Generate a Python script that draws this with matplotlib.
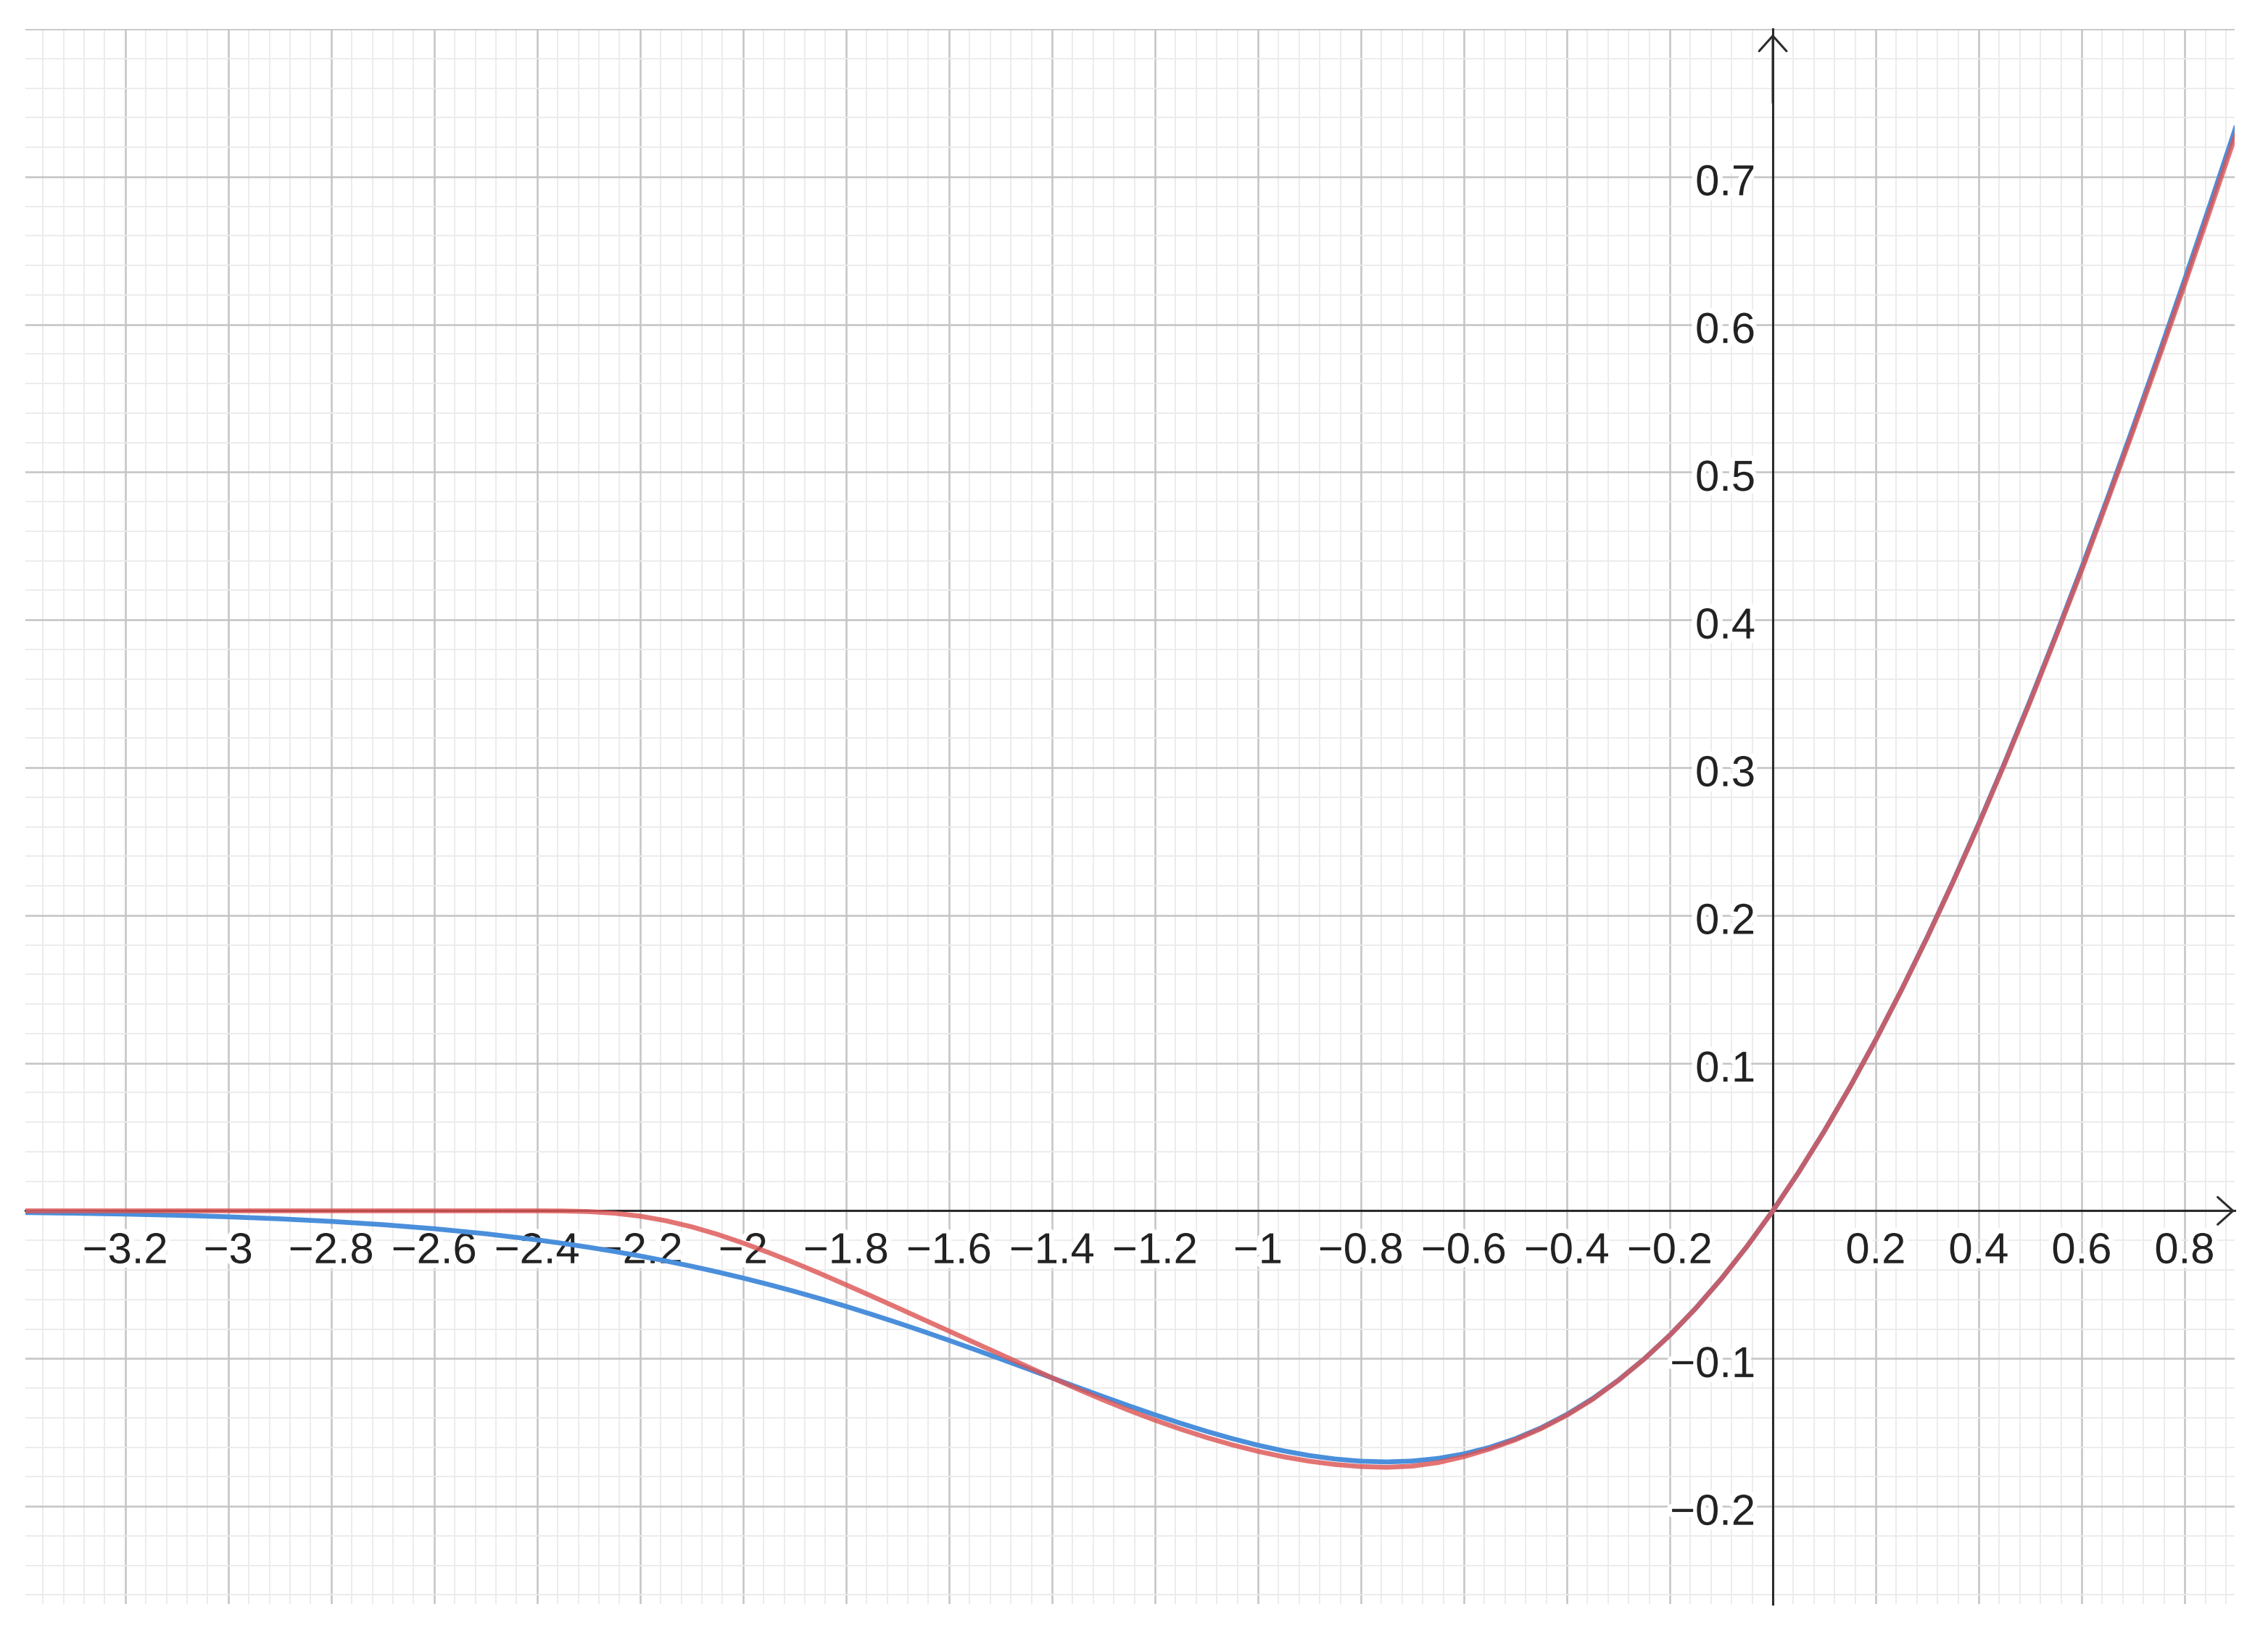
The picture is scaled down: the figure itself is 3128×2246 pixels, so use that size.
import numpy as np
import matplotlib
matplotlib.use("Agg")
import matplotlib.pyplot as plt
import matplotlib.patheffects as pe
from matplotlib.ticker import MultipleLocator, NullFormatter

plt.rcParams['font.family'] = ['Liberation Sans', 'DejaVu Sans']

x_vals = [-3.4, -3.3, -3.2, -3.1, -3.0, -2.9, -2.8, -2.7, -2.6, -2.5,
          -2.4, -2.35, -2.3, -2.25, -2.2, -2.15, -2.1, -2.05, -2.0, -1.95,
          -1.9, -1.85, -1.8, -1.75, -1.7, -1.65, -1.6, -1.55, -1.5, -1.45,
          -1.4, -1.35, -1.3, -1.25, -1.2, -1.15, -1.1, -1.05, -1.0, -0.95,
          -0.9, -0.85, -0.8, -0.75, -0.7, -0.65, -0.6, -0.55, -0.5, -0.45,
          -0.4, -0.35, -0.3, -0.25, -0.2, -0.15, -0.1, -0.05, 0.0, 0.05,
          0.1, 0.15, 0.2, 0.25, 0.3, 0.35, 0.4, 0.45, 0.5, 0.55,
          0.6, 0.65, 0.7, 0.75, 0.8, 0.85, 0.9]

# blue curve
blue_vals = [-0.00115, -0.00159, -0.00220, -0.00300, -0.00405, -0.00542, -0.00716, -0.00936, -0.01212, -0.01552,
             -0.01968, -0.02206, -0.02466, -0.02750, -0.03058, -0.03393, -0.03751, -0.04137, -0.04550, -0.04990,
             -0.05457, -0.05950, -0.06467, -0.07011, -0.07577, -0.08163, -0.08768, -0.09388, -0.10021, -0.10662,
             -0.11306, -0.11949, -0.12584, -0.13206, -0.13808, -0.14383, -0.14924, -0.15420, -0.15866, -0.16251,
             -0.16566, -0.16801, -0.16949, -0.16997, -0.16937, -0.16760, -0.16455, -0.16014, -0.15427, -0.14686,
             -0.13783, -0.12711, -0.11463, -0.10032, -0.08415, -0.06606, -0.04602, -0.02400, 0.0, 0.02600,
             0.05398, 0.08394, 0.11585, 0.14968, 0.18537, 0.22289, 0.26217, 0.30314, 0.34573, 0.38986,
             0.43545, 0.48240, 0.53063, 0.58003, 0.63051, 0.68199, 0.73435]

# red curve
red_vals = [0.0, 0.0, 0.0, 0.0, 0.0, 0.0, 0.0, 0.0, 0.0, 0.0,
            0.0, -0.0001, -0.0005, -0.0016, -0.0036, -0.0067, -0.0108, -0.0159, -0.0218, -0.0283,
            -0.0352, -0.0425, -0.0501, -0.0578, -0.0656, -0.0735, -0.0814, -0.0893, -0.0972, -0.1051,
            -0.1130, -0.1207, -0.1281, -0.1351, -0.1417, -0.1478, -0.1534, -0.1584, -0.1628, -0.1665,
            -0.1695, -0.1717, -0.1731, -0.1736, -0.1728, -0.1704, -0.1664, -0.1612, -0.1550, -0.1474,
            -0.1384, -0.1276, -0.1148, -0.1004, -0.0842, -0.0661, -0.0460, -0.0240, 0.0, 0.0260,
            0.0539, 0.0839, 0.1157, 0.1495, 0.1850, 0.2225, 0.2615, 0.3024, 0.3447, 0.3888,
            0.4337, 0.4806, 0.5282, 0.5774, 0.6272, 0.6781, 0.7295]

x_labels = [-3.2, -3.0, -2.8, -2.6, -2.4, -2.2, -2.0, -1.8, -1.6, -1.4, -1.2,
            -1.0, -0.8, -0.6, -0.4, -0.2, 0.2, 0.4, 0.6, 0.8]
y_labels = [-0.2, -0.1, 0.1, 0.2, 0.3, 0.4, 0.5, 0.6, 0.7]

fig = plt.figure(figsize=(15.64, 11.23), dpi=200)
ax = fig.add_axes([0.01119, 0.01469, 0.9741, 0.9675])

ax.set_xlim(-3.394, 0.897)
ax.set_ylim(-0.2662, 0.800)

ax.xaxis.set_major_locator(MultipleLocator(0.2))
ax.xaxis.set_minor_locator(MultipleLocator(0.04))
ax.yaxis.set_major_locator(MultipleLocator(0.1))
ax.yaxis.set_minor_locator(MultipleLocator(0.02))
ax.xaxis.set_major_formatter(NullFormatter())
ax.yaxis.set_major_formatter(NullFormatter())
ax.tick_params(which='both', length=0)

ax.grid(which='minor', color='#ebebeb', lw=0.65, zorder=0)
ax.grid(which='major', color='#c4c4c4', lw=0.9, zorder=0)
ax.set_axisbelow(True)

for s in ['top', 'right']:
    ax.spines[s].set_visible(False)
ax.spines['bottom'].set_position(('data', 0))
ax.spines['left'].set_position(('data', 0))
for s in ['bottom', 'left']:
    ax.spines[s].set_color('#2b2b2b')
    ax.spines[s].set_linewidth(1.1)
    ax.spines[s].set_zorder(3)


def lab(v):
    s = '%g' % v
    return s.replace('-', '\u2212')


halo = [pe.withStroke(linewidth=5, foreground='white')]
for v in x_labels:
    ax.annotate(lab(v), xy=(v, 0), xytext=(0, -26), textcoords='offset points',
                ha='center', va='baseline', fontsize=21.5, color='#222222',
                path_effects=halo, zorder=3)
for v in y_labels:
    ax.annotate(lab(v), xy=(0, v), xytext=(-8.5, -9.2), textcoords='offset points',
                ha='right', va='baseline', fontsize=21.5, color='#222222',
                path_effects=halo, zorder=3)

ax.plot(x_vals, blue_vals, color='#4a8fdb', lw=2.4, zorder=4, solid_capstyle='butt')
ax.plot(x_vals, red_vals, color='#dd5555', lw=2.4, alpha=0.82, zorder=5, solid_capstyle='butt')

# axis arrowheads
arrow = dict(arrowstyle='->,head_length=0.38,head_width=0.34', color='#2b2b2b',
             lw=1.1, shrinkA=0, shrinkB=0, mutation_scale=20)
ax.annotate('', xy=(1.0, 0), xycoords=('axes fraction', 'data'),
            xytext=(0.97, 0), textcoords=('axes fraction', 'data'),
            arrowprops=arrow, annotation_clip=False, zorder=6)
ax.annotate('', xy=(0, 0.7965), xycoords='data', xytext=(0, 0.75),
            textcoords='data', arrowprops=arrow, annotation_clip=False, zorder=6)

fig.savefig('out.png', dpi=200, facecolor='white')
